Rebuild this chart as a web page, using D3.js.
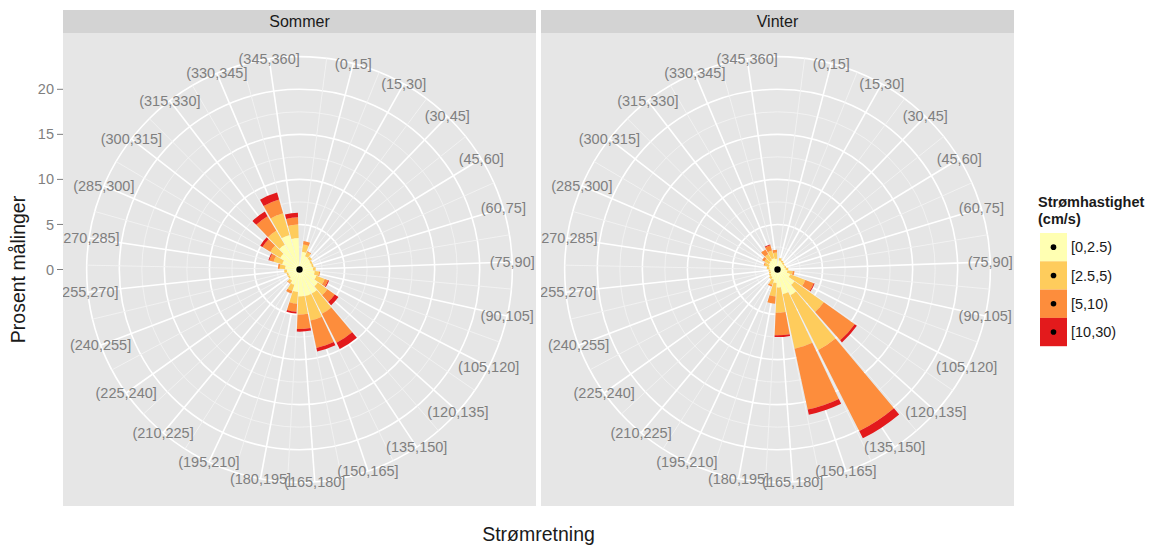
<!DOCTYPE html>
<html>
<head>
<meta charset="utf-8">
<script src="https://cdn.jsdelivr.net/npm/d3@7"></script>
<style>
  html, body { margin: 0; padding: 0; background: #ffffff; }
  svg { display: block; font-family: "Liberation Sans", Arial, sans-serif; }
</style>
</head>
<body>
<svg id="chart" width="1164" height="547"></svg>
<script>
// ---------------- data ----------------
const directions = ["(0,15]","(15,30]","(30,45]","(45,60]","(60,75]","(75,90]",
  "(90,105]","(105,120]","(120,135]","(135,150]","(150,165]","(165,180]",
  "(180,195]","(195,210]","(210,225]","(225,240]","(240,255]","(255,270]",
  "(270,285]","(285,300]","(300,315]","(315,330]","(330,345]","(345,360]"];
const speedClasses = ["[0,2.5)", "[2.5,5)", "[5,10)", "[10,30)"];
const seasons = ["Sommer", "Vinter"];
const rTicks = [0, 5, 10, 15, 20];

// percent of measurements per direction, one array per speed class
const sommer_0_2_5  = [2.0,1.6,1.5,1.4,1.4,1.5,1.7,2.0,2.5,3.0,3.0,3.0,2.5,1.8,1.5,1.3,1.3,1.4,1.6,2.0,2.5,3.2,4.0,3.5];
const sommer_2_5_5  = [0.8,0.5,0.3,0.2,0.2,0.3,0.5,1.0,1.3,2.5,2.8,2.0,1.3,0.7,0.3,0.2,0.2,0.3,0.6,1.0,1.3,1.8,2.5,1.5];
const sommer_5_10   = [0.4,0.1,0.0,0.0,0.0,0.0,0.1,0.4,1.0,3.6,3.1,1.6,0.9,0.3,0.1,0.0,0.0,0.0,0.2,0.5,1.0,1.9,1.6,0.8];
const sommer_10_30  = [0.0,0.0,0.0,0.0,0.0,0.0,0.0,0.1,0.5,0.8,0.4,0.3,0.2,0.0,0.0,0.0,0.0,0.0,0.0,0.1,0.3,0.6,0.8,0.5];

const vinter_0_2_5  = [1.0,0.9,0.8,0.8,0.8,0.9,1.1,1.5,2.3,3.2,2.8,2.0,1.5,1.2,1.0,0.9,0.8,0.8,0.9,1.0,1.1,1.2,1.3,1.2];
const vinter_2_5_5  = [0.3,0.2,0.2,0.1,0.2,0.3,0.6,1.8,4.0,6.8,6.2,2.8,1.5,0.6,0.3,0.2,0.2,0.2,0.3,0.5,0.6,0.8,0.9,0.7];
const vinter_5_10   = [0.0,0.0,0.0,0.0,0.0,0.0,0.2,1.0,4.2,10.1,6.9,2.5,0.8,0.2,0.0,0.0,0.0,0.0,0.0,0.1,0.3,0.6,0.6,0.3];
const vinter_10_30  = [0.0,0.0,0.0,0.0,0.0,0.0,0.0,0.1,0.3,0.9,0.6,0.2,0.0,0.0,0.0,0.0,0.0,0.0,0.0,0.0,0.0,0.0,0.1,0.0];

const seasonData = {
  "Sommer": [sommer_0_2_5, sommer_2_5_5, sommer_5_10, sommer_10_30],
  "Vinter": [vinter_0_2_5, vinter_2_5_5, vinter_5_10, vinter_10_30]
};
const fillColors = ["#FFFFB2", "#FECC5C", "#FD8D3C", "#E31A1C"];

// ---------------- layout ----------------
const svg = d3.select("#chart");
const panelSize = 473;
const panelTop = 33;
const stripH = 23;
const panelLefts = [63, 541];

// shared scales
const totals = [];
seasons.forEach(s => directions.forEach((d, i) => totals.push(d3.sum(seasonData[s], arr => arr[i]))));
const rScale = d3.scaleLinear().domain([0, d3.max(totals)]).range([0, 0.4 * panelSize]);
const thetaScale = d3.scaleLinear().domain([0, 24.56]).range([0, 2 * Math.PI]);
const outerR = 0.45 * panelSize;
const color = d3.scaleOrdinal().domain(speedClasses).range(fillColors);

const defs = svg.append("defs");

seasons.forEach((season, si) => {
  const px = panelLefts[si];
  const cx = px + panelSize / 2, cy = panelTop + panelSize / 2;

  defs.append("clipPath").attr("id", "clip" + si)
    .append("rect").attr("x", px).attr("y", panelTop).attr("width", panelSize).attr("height", panelSize);

  // strip
  svg.append("rect").attr("x", px).attr("y", panelTop - stripH).attr("width", panelSize).attr("height", stripH)
    .attr("fill", "#D3D3D3");
  svg.append("text").attr("x", cx).attr("y", panelTop - stripH / 2).attr("dy", "0.35em")
    .attr("text-anchor", "middle").attr("font-size", 16).attr("fill", "#1a1a1a").text(season);

  // panel background
  const g = svg.append("g").attr("clip-path", `url(#clip${si})`);
  g.append("rect").attr("x", px).attr("y", panelTop).attr("width", panelSize).attr("height", panelSize)
    .attr("fill", "#E6E6E6");

  const c = g.append("g").attr("transform", `translate(${cx},${cy})`);

  // minor r circles
  const minorR = [2.5, 7.5, 12.5, 17.5];
  c.selectAll("circle.minor").data(minorR).join("circle")
    .attr("r", d => rScale(d)).attr("fill", "none").attr("stroke", "#F3F3F3").attr("stroke-width", 0.9);
  // major r circles + outer
  c.selectAll("circle.major").data(rTicks.slice(1).map(d => rScale(d)).concat([outerR])).join("circle")
    .attr("r", d => d).attr("fill", "none").attr("stroke", "#FFFFFF").attr("stroke-width", 1.6);
  // theta minor spokes
  const minorTheta = d3.range(24).map(i => i + 0.5);
  c.selectAll("line.tminor").data(minorTheta).join("line")
    .attr("x1", 0).attr("y1", 0)
    .attr("x2", d => outerR * Math.sin(thetaScale(d)))
    .attr("y2", d => -outerR * Math.cos(thetaScale(d)))
    .attr("stroke", "#F3F3F3").attr("stroke-width", 0.9);
  // theta major spokes
  c.selectAll("line.tmajor").data(directions).join("line")
    .attr("x1", 0).attr("y1", 0)
    .attr("x2", (d, i) => outerR * Math.sin(thetaScale(i + 1)))
    .attr("y2", (d, i) => -outerR * Math.cos(thetaScale(i + 1)))
    .attr("stroke", "#FFFFFF").attr("stroke-width", 1.6);

  // stacked bars
  const arc = d3.arc();
  const segs = [];
  directions.forEach((d, i) => {
    let cum = 0;
    speedClasses.forEach((sc, j) => {
      const v = seasonData[season][j][i];
      if (v > 0) segs.push({ dir: i + 1, cls: sc, y0: cum, y1: cum + v });
      cum += v;
    });
  });
  c.selectAll("path.bar").data(segs).join("path")
    .attr("d", d => arc({
      innerRadius: rScale(d.y0), outerRadius: rScale(d.y1),
      startAngle: thetaScale(d.dir - 0.45), endAngle: thetaScale(d.dir + 0.45)
    }))
    .attr("fill", d => color(d.cls));

  // centre point
  c.append("circle").attr("r", 3.2).attr("fill", "#000");

  // theta labels
  c.selectAll("text.tlab").data(directions).join("text")
    .attr("x", (d, i) => outerR * Math.sin(thetaScale(i + 1)))
    .attr("y", (d, i) => -outerR * Math.cos(thetaScale(i + 1)))
    .attr("dy", "0.35em").attr("text-anchor", "middle")
    .attr("font-size", 14.5).attr("fill", "#7F7F7F").text(d => d);

  // r axis on the first panel
  if (si === 0) {
    const ax = svg.append("g").attr("transform", `translate(${px},0)`);
    ax.selectAll("line").data(rTicks).join("line")
      .attr("x1", -6).attr("x2", 0)
      .attr("y1", d => cy - rScale(d)).attr("y2", d => cy - rScale(d))
      .attr("stroke", "#7F7F7F").attr("stroke-width", 1);
    ax.selectAll("text").data(rTicks).join("text")
      .attr("x", -9).attr("y", d => cy - rScale(d)).attr("dy", "0.35em")
      .attr("text-anchor", "end").attr("font-size", 14.5).attr("fill", "#7F7F7F").text(d => d);
  }
});

// axis titles
svg.append("text").attr("x", (panelLefts[0] + panelLefts[1] + panelSize) / 2).attr("y", 534).attr("dy", "0.35em")
  .attr("text-anchor", "middle").attr("font-size", 19.5).attr("fill", "#1a1a1a").text("Strømretning");
svg.append("text").attr("transform", `translate(18,${panelTop + panelSize / 2}) rotate(-90)`).attr("dy", "0.35em")
  .attr("text-anchor", "middle").attr("font-size", 19.5).attr("fill", "#1a1a1a").text("Prosent målinger");

// legend
const lg = svg.append("g");
lg.append("text").attr("x", 1038).attr("y", 202).attr("dy", "0.35em").attr("font-size", 14.5)
  .attr("font-weight", "bold").attr("fill", "#1a1a1a").text("Strømhastighet");
lg.append("text").attr("x", 1038).attr("y", 219).attr("dy", "0.35em").attr("font-size", 14.5)
  .attr("font-weight", "bold").attr("fill", "#1a1a1a").text("(cm/s)");
const keyH = 28.3, keyTop = 233;
lg.selectAll("rect.key").data(speedClasses).join("rect")
  .attr("x", 1040).attr("y", (d, i) => keyTop + i * keyH).attr("width", 27).attr("height", keyH)
  .attr("fill", d => color(d));
lg.selectAll("circle.key").data(speedClasses).join("circle")
  .attr("cx", 1053.5).attr("cy", (d, i) => keyTop + i * keyH + keyH / 2).attr("r", 2.8).attr("fill", "#000");
lg.selectAll("text.key").data(speedClasses).join("text")
  .attr("x", 1071).attr("y", (d, i) => keyTop + i * keyH + keyH / 2).attr("dy", "0.35em")
  .attr("font-size", 14.5).attr("fill", "#1a1a1a").text(d => d);
</script>
</body>
</html>
